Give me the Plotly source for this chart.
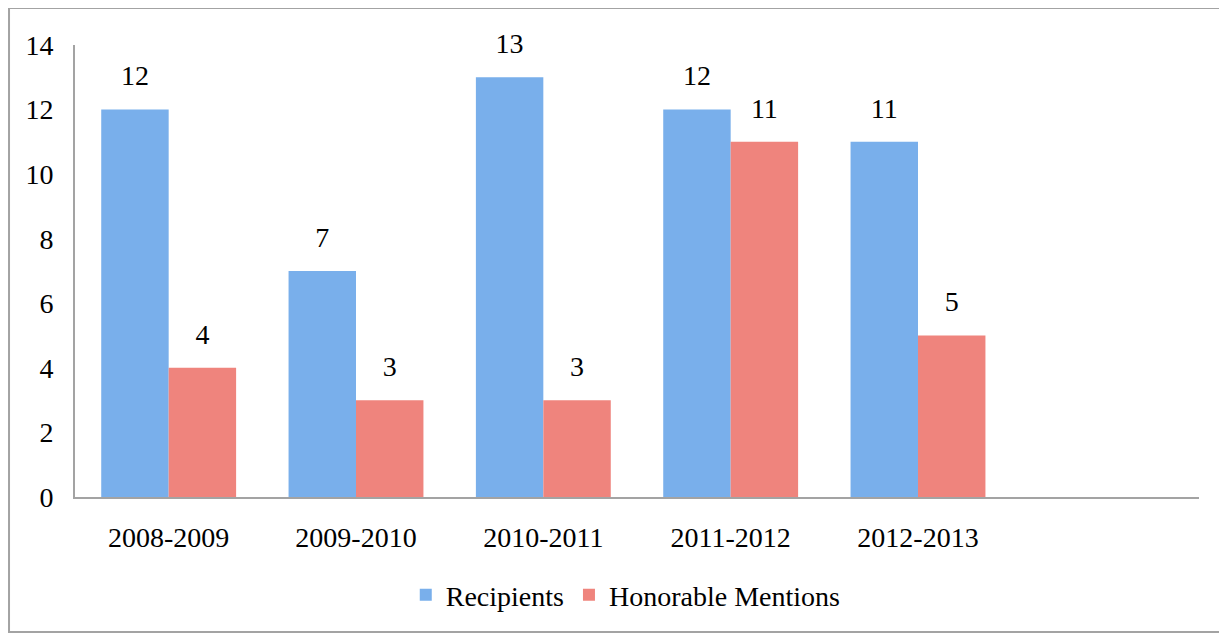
import plotly.graph_objs as go

years = ["2008-2009", "2009-2010", "2010-2011", "2011-2012", "2012-2013"]
recipients = [12, 7, 13, 12, 11]
honorable = [4, 3, 3, 11, 5]
y_ticks = [0, 2, 4, 6, 8, 10, 12, 14]

FONT = "Liberation Serif, serif"
AXIS_GRAY = "#a3a3a3"

series = [
    ("Recipients", recipients, "#79afeb"),
    ("Honorable Mentions", honorable, "#ef847d"),
]

fig = go.Figure()

for name, values, color in series:
    fig.add_trace(
        go.Bar(
            x=years,
            y=values,
            name=name,
            marker=dict(color=color, line=dict(width=0)),
            hoverinfo="x+y+name",
        )
    )

# value labels sit a bit above the bars, grouped like the bars
for name, values, color in series:
    fig.add_trace(
        go.Scatter(
            x=years,
            y=values,
            mode="markers+text",
            text=[str(v) for v in values],
            textposition="top center",
            textfont=dict(family=FONT, size=28, color="black"),
            marker=dict(size=26, opacity=0),
            cliponaxis=False,
            showlegend=False,
            hoverinfo="skip",
        )
    )

fig.update_layout(
    width=1219,
    height=626,
    margin=dict(l=67, r=28, t=37, b=137),
    paper_bgcolor="white",
    plot_bgcolor="white",
    barmode="group",
    bargap=0.28,
    bargroupgap=0,
    scattermode="group",
    scattergap=0.28,
    font=dict(family=FONT, size=28, color="black"),
    showlegend=True,
    legend=dict(
        orientation="h",
        x=0.49,
        xanchor="center",
        y=-0.217,
        yanchor="middle",
        font=dict(family=FONT, size=28, color="black"),
        itemwidth=30,
        traceorder="normal",
    ),
    xaxis=dict(
        type="category",
        range=[-0.5, 5.5],
        showline=True,
        linecolor=AXIS_GRAY,
        linewidth=2,
        showgrid=False,
        ticks="",
        ticklabelstandoff=14,
        tickfont=dict(family=FONT, size=28),
    ),
    yaxis=dict(
        range=[0, 14],
        tickvals=y_ticks,
        showline=True,
        linecolor=AXIS_GRAY,
        linewidth=2,
        showgrid=False,
        zeroline=False,
        ticks="",
        ticklabelstandoff=14,
        tickfont=dict(family=FONT, size=28),
    ),
    shapes=[
        dict(
            type="rect",
            xref="paper",
            yref="paper",
            x0=-0.0587,
            x1=1.0222,
            y0=-0.2987,
            y1=1.0819,
            line=dict(color=AXIS_GRAY, width=2),
            fillcolor="rgba(0,0,0,0)",
            layer="below",
        )
    ],
)

fig.write_html("out.html")
